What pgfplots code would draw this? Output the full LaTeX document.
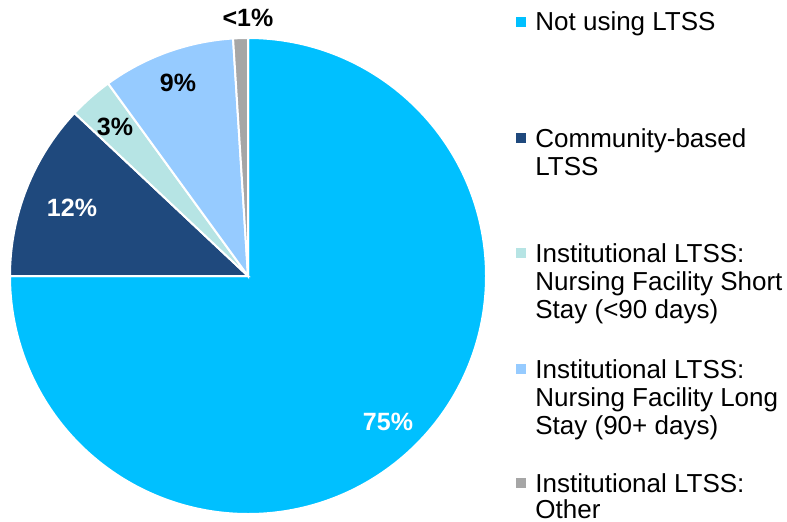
\documentclass[border=0pt]{standalone}
\usepackage{pgfplots}
\pgfplotsset{compat=1.18}
\usepackage{fontspec}
\setmainfont{Liberation Sans}
\definecolor{cA}{RGB}{0,192,255}
\definecolor{cB}{RGB}{31,73,125}
\definecolor{cC}{RGB}{182,228,228}
\definecolor{cD}{RGB}{150,203,255}
\definecolor{cE}{RGB}{166,166,166}
% shares (percent): Not using 75, Community 12, Short stay 3, Long stay 9, Other 1
\begin{document}
\begin{tikzpicture}
\begin{axis}[hide axis, scale only axis, x=0.5pt, y=0.5pt,
  xmin=0, xmax=787, ymin=0, ymax=521, clip=false]
\addplot[draw=none] coordinates {(0,0) (787,521)};
\path (axis cs:0,0) rectangle (axis cs:787,521);
\fill[cA, draw=white, line width=1pt] (axis cs:248,245) -- ++(90:119pt) arc[start angle=90, end angle={90-3.6*75}, radius=119pt] -- cycle;
\fill[cB, draw=white, line width=1pt] (axis cs:248,245) -- ++(-180:119pt) arc[start angle=-180, end angle={-180-3.6*12}, radius=119pt] -- cycle;
\fill[cC, draw=white, line width=1pt] (axis cs:248,245) -- ++(-223.2:119pt) arc[start angle=-223.2, end angle={-223.2-3.6*3}, radius=119pt] -- cycle;
\fill[cD, draw=white, line width=1pt] (axis cs:248,245) -- ++(-234:119pt) arc[start angle=-234, end angle={-234-3.6*9}, radius=119pt] -- cycle;
\fill[cE, draw=white, line width=1pt] (axis cs:248,245) -- ++(-266.4:119pt) arc[start angle=-266.4, end angle={-266.4-3.6*1}, radius=119pt] -- cycle;
% slice labels
\tikzset{lab/.style={font=\bfseries\fontsize{12.5}{14}\selectfont, inner sep=0pt}}
\node[lab, text=white] at (axis cs:388,99) {75\%};
\node[lab, text=white] at (axis cs:72,313) {12\%};
\node[lab] at (axis cs:115,394) {3\%};
\node[lab] at (axis cs:178,438) {9\%};
\node[lab] at (axis cs:248,503) {<1\%};
% legend
\tikzset{leg/.style={anchor=base west, font=\fontsize{13}{14}\selectfont, inner sep=0pt}}
\tikzset{sq/.style={minimum size=5pt, inner sep=0pt}}
\node[sq, fill=cA] at (axis cs:520.5,499) {};
\node[leg] at (axis cs:535,490) {Not using LTSS};
\node[sq, fill=cB] at (axis cs:520.5,383) {};
\node[leg] at (axis cs:535,374) {Community-based};
\node[leg] at (axis cs:535,346) {LTSS};
\node[sq, fill=cC] at (axis cs:520.5,268) {};
\node[leg] at (axis cs:535,259) {Institutional LTSS:};
\node[leg] at (axis cs:535,231) {Nursing Facility Short};
\node[leg] at (axis cs:535,203) {Stay (<90 days)};
\node[sq, fill=cD] at (axis cs:520.5,152) {};
\node[leg] at (axis cs:535,143) {Institutional LTSS:};
\node[leg] at (axis cs:535,115) {Nursing Facility Long};
\node[leg] at (axis cs:535,87) {Stay (90+ days)};
\node[sq, fill=cE] at (axis cs:520.5,38) {};
\node[leg] at (axis cs:535,29) {Institutional LTSS:};
\node[leg] at (axis cs:535,3) {Other};
\end{axis}
\end{tikzpicture}
\end{document}
